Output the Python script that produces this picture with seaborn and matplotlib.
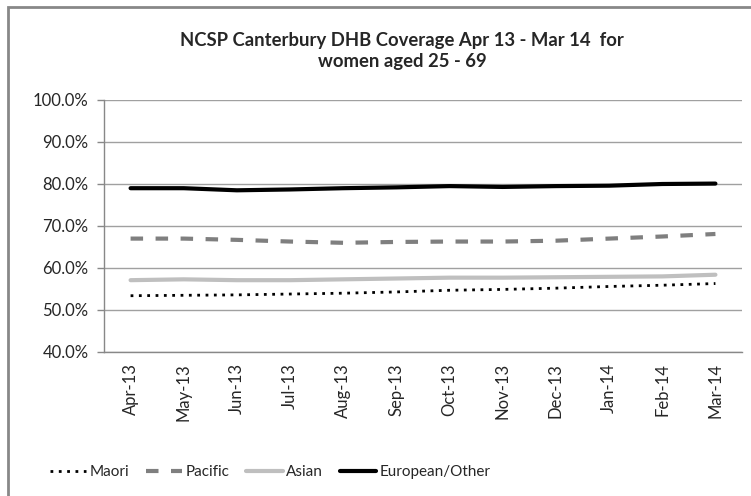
import pandas as pd
import matplotlib.pyplot as plt
import seaborn as sns
from matplotlib.patches import Rectangle
from matplotlib.ticker import PercentFormatter

# data
months = ['Apr-13', 'May-13', 'Jun-13', 'Jul-13', 'Aug-13', 'Sep-13',
          'Oct-13', 'Nov-13', 'Dec-13', 'Jan-14', 'Feb-14', 'Mar-14']
maori = [53.4, 53.5, 53.6, 53.8, 54.0, 54.3, 54.7, 54.9, 55.2, 55.6, 55.9, 56.3]
pacific = [67.0, 67.0, 66.7, 66.3, 66.0, 66.2, 66.3, 66.3, 66.5, 67.0, 67.5, 68.1]
asian = [57.1, 57.3, 57.1, 57.1, 57.3, 57.5, 57.7, 57.7, 57.8, 57.9, 58.0, 58.4]
european = [79.0, 79.0, 78.5, 78.7, 79.0, 79.2, 79.5, 79.3, 79.5, 79.6, 80.0, 80.1]

series = {'Maori': maori, 'Pacific': pacific, 'Asian': asian, 'European/Other': european}
styles = {
    'Maori': dict(color='black', linestyle=(0, (1, 2)), lw=2.0),
    'Pacific': dict(color='#7f7f7f', linestyle=(0, (3, 3)), lw=3.0),
    'Asian': dict(color='#bfbfbf', linestyle='-', lw=3.0),
    'European/Other': dict(color='black', linestyle='-', lw=3.0),
}

sns.set_style('white')
plt.rcParams['font.family'] = ['Lato', 'DejaVu Sans']

fig = plt.figure(figsize=(7.51, 4.96), dpi=100)
ax = fig.add_axes([104 / 751, 1 - 352 / 496, 638 / 751, 252 / 496])

x = list(range(len(months)))
for name, vals in series.items():
    sns.lineplot(x=x, y=vals, ax=ax, label=name, **styles[name])

ax.set_ylim(40, 100)
ax.set_xlim(-0.5, len(months) - 0.5)
ax.set_yticks(range(40, 101, 10))
ax.yaxis.set_major_formatter(PercentFormatter(decimals=1))
ax.set_xticks(x)
ax.set_xticklabels(months, rotation=90)
ax.set_xticks([i - 0.5 for i in range(len(months) + 1)], minor=True)
ax.tick_params(axis='x', which='major', length=0, pad=8, labelsize=12)
ax.tick_params(axis='x', which='minor', length=5, color='#888888', width=1)
ax.tick_params(axis='y', length=5, color='#888888', width=1, pad=6, labelsize=12, left=True)
ax.grid(axis='y', color='#a0a0a0', lw=1)
for s in ['top', 'right']:
    ax.spines[s].set_visible(False)
for s in ['left', 'bottom']:
    ax.spines[s].set_color('#888888')
    ax.spines[s].set_linewidth(1)
ax.set_axisbelow(True)

fig.text(402 / 751, 1 - 51 / 496, 'NCSP Canterbury DHB Coverage Apr 13 - Mar 14  for\nwomen aged 25 - 69',
         ha='center', va='center', fontsize=13.3, fontweight='bold', linespacing=1.3)

leg = ax.legend(loc='center', bbox_to_anchor=(270 / 751, 1 - 472 / 496),
                bbox_transform=fig.transFigure, ncol=4, frameon=False,
                fontsize=11, handlelength=2.4, handletextpad=0.2, columnspacing=1.1)

# chart area border
fig.patches.append(Rectangle((8 / 751, -0.1), 1.2, 1 - 7 / 496 + 0.1,
                             transform=fig.transFigure, fill=False,
                             edgecolor='#888888', lw=2))

fig.savefig('out.png', dpi=100)
